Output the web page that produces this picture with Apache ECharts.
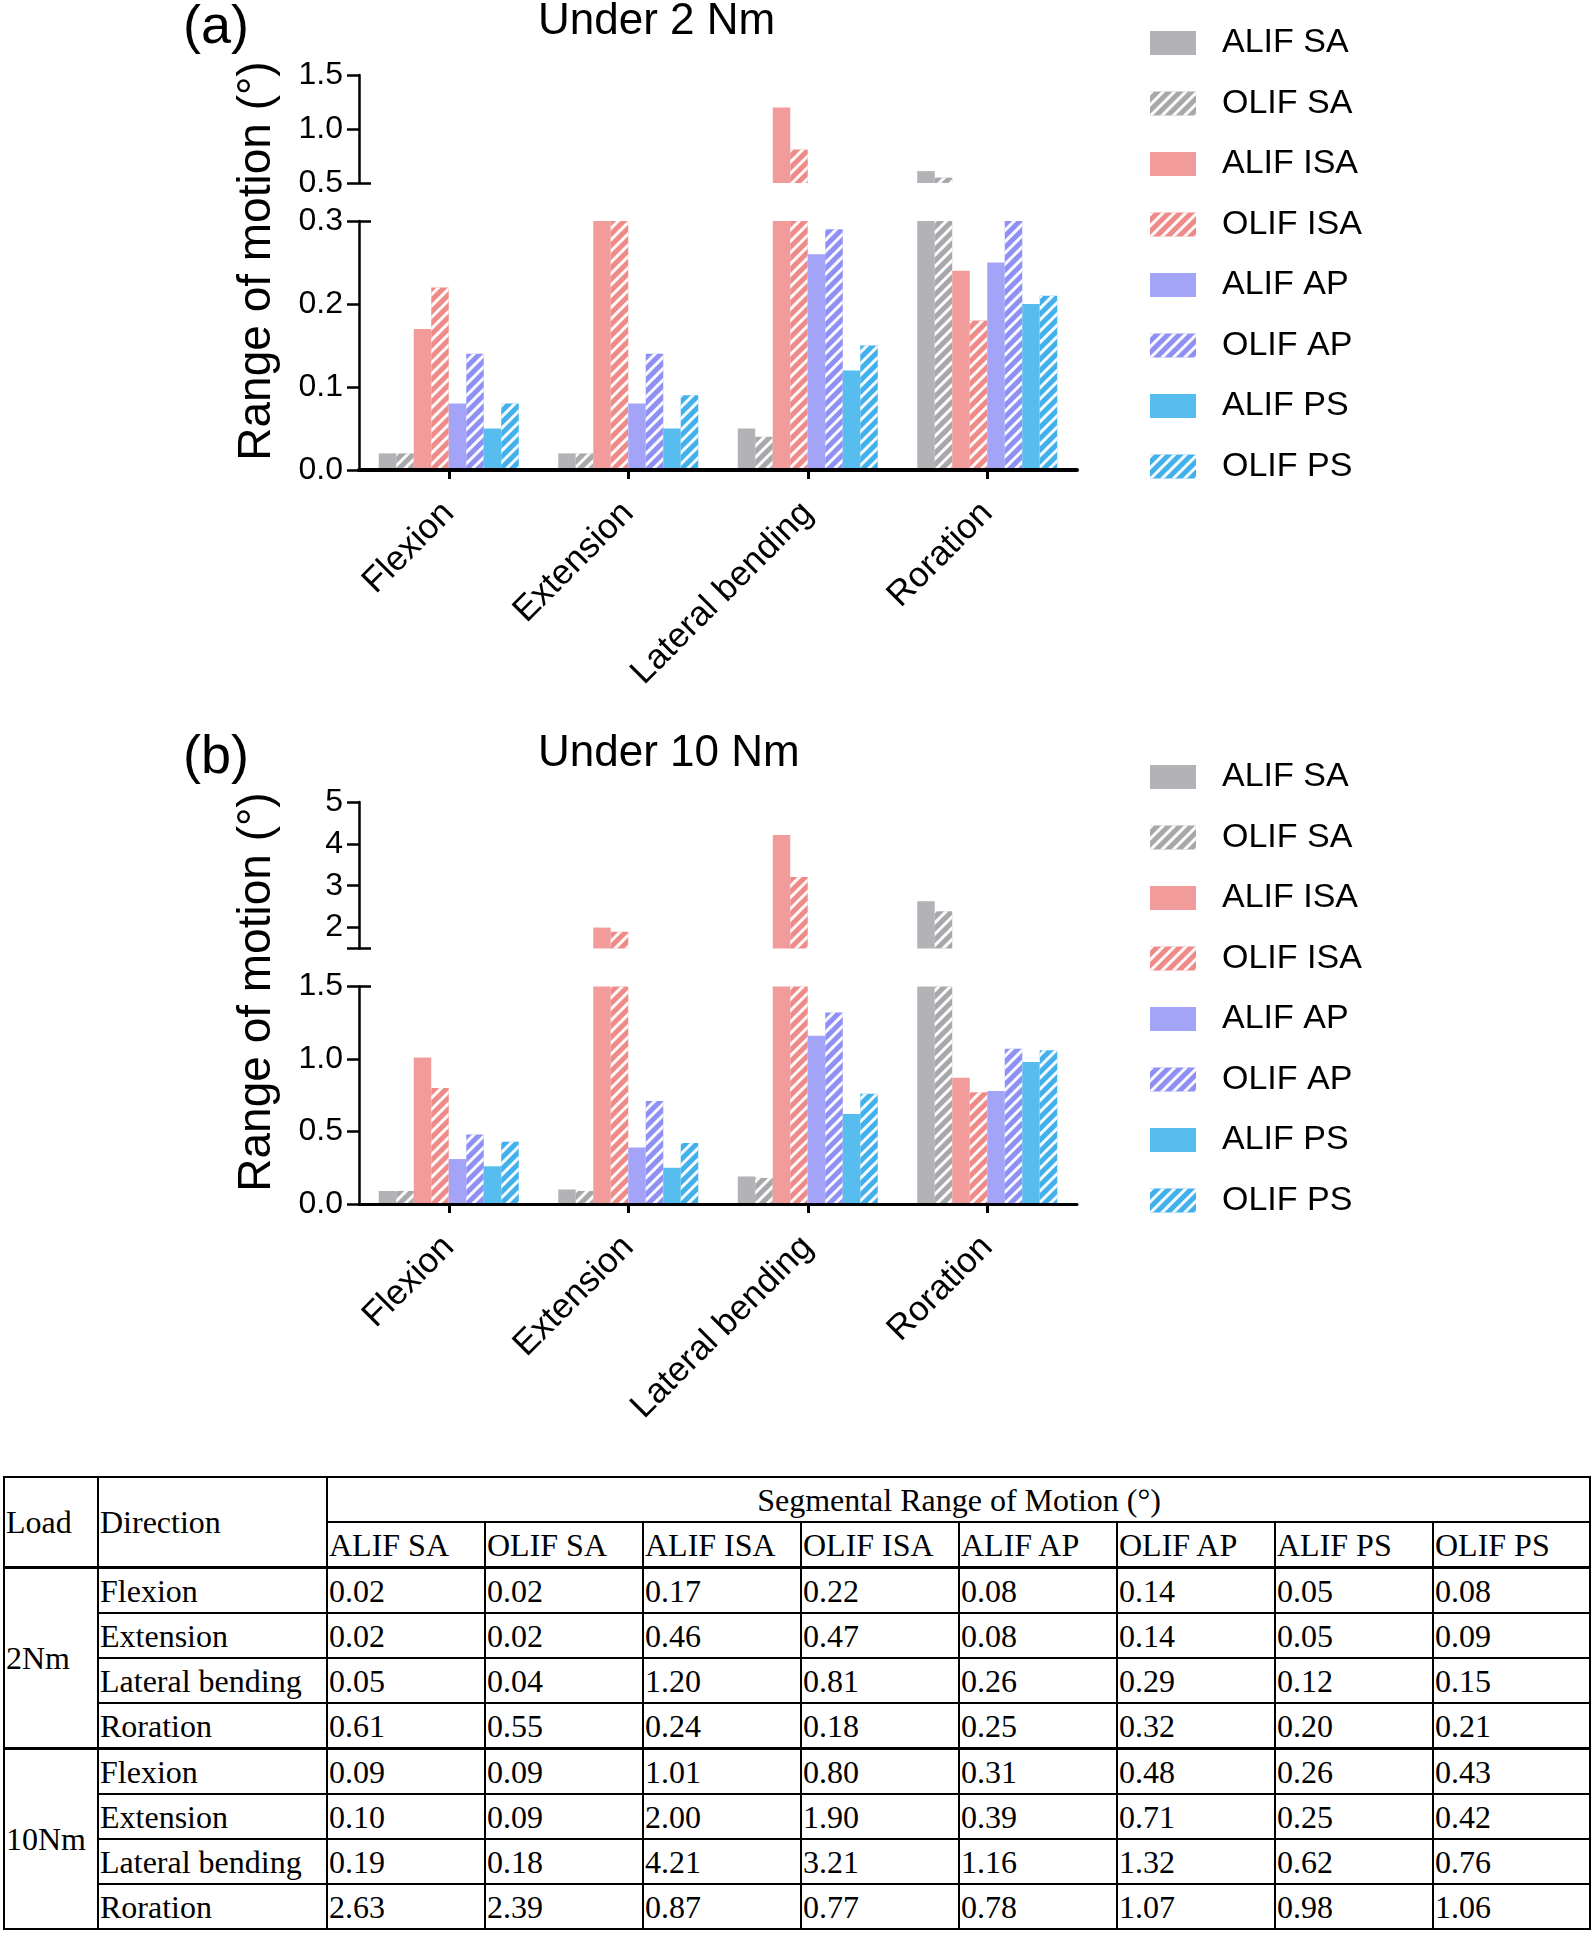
<!DOCTYPE html>
<html>
<head>
<meta charset="utf-8">
<title>Segmental range of motion</title>
<script src="https://cdn.jsdelivr.net/npm/echarts@6.0.0/dist/echarts.min.js"></script>
<style>
  html, body { margin: 0; padding: 0; background: #fff; }
  #myChart { position: absolute; left: 0; top: 0; width: 1594px; height: 1470px; }
  #romTable {
    position: absolute; left: 3px; top: 1476px; width: 1588px;
    border-collapse: collapse; table-layout: fixed;
    font-family: "Liberation Serif", "Times New Roman", serif; font-size: 32px; color: #000;
  }
  #romTable td { border: 2px solid #000; height: 43px; padding: 0 0 0 1px; white-space: nowrap; vertical-align: middle; line-height: 1; }
  #romTable tr.sep td { border-top-width: 3px; }
</style>
</head>
<body>
<div id="myChart"></div>
<table id="romTable"></table>
<script>
// categories / series names
const categories = ['Flexion', 'Extension', 'Lateral bending', 'Roration'];
const seriesNames = ['ALIF SA', 'OLIF SA', 'ALIF ISA', 'OLIF ISA', 'ALIF AP', 'OLIF AP', 'ALIF PS', 'OLIF PS'];
const loads = ['2Nm', '10Nm'];

// under 2 Nm (Flexion, Extension, Lateral bending, Roration)
const alifSA_2 = [0.02, 0.02, 0.05, 0.61];
const olifSA_2 = [0.02, 0.02, 0.04, 0.55];
const alifISA_2 = [0.17, 0.46, 1.20, 0.24];
const olifISA_2 = [0.22, 0.47, 0.81, 0.18];
const alifAP_2 = [0.08, 0.08, 0.26, 0.25];
const olifAP_2 = [0.14, 0.14, 0.29, 0.32];
const alifPS_2 = [0.05, 0.05, 0.12, 0.20];
const olifPS_2 = [0.08, 0.09, 0.15, 0.21];

// under 10 Nm
const alifSA_10 = [0.09, 0.10, 0.19, 2.63];
const olifSA_10 = [0.09, 0.09, 0.18, 2.39];
const alifISA_10 = [1.01, 2.00, 4.21, 0.87];
const olifISA_10 = [0.80, 1.90, 3.21, 0.77];
const alifAP_10 = [0.31, 0.39, 1.16, 0.78];
const olifAP_10 = [0.48, 0.71, 1.32, 1.07];
const alifPS_10 = [0.26, 0.25, 0.62, 0.98];
const olifPS_10 = [0.43, 0.42, 0.76, 1.06];

// tick labels of the broken y axes
const ticksA_low = [0, 0.1, 0.2, 0.3];
const ticksA_high = [0.5, 1.0, 1.5];
const ticksB_low = [0, 0.5, 1.0, 1.5];
const ticksB_high = [2, 3, 4, 5];

const values2 = [alifSA_2, olifSA_2, alifISA_2, olifISA_2, alifAP_2, olifAP_2, alifPS_2, olifPS_2];
const values10 = [alifSA_10, olifSA_10, alifISA_10, olifISA_10, alifAP_10, olifAP_10, alifPS_10, olifPS_10];

const barColors = ['#b3b2b7', '#a8a8aa', '#f19c9a', '#ee8b89', '#a3a4f8', '#8f90f4', '#57bdef', '#42b1eb'];
const FONT = '"Liberation Sans", Arial, sans-serif';

const hatch = {
  symbol: 'rect', symbolSize: 1, color: 'rgba(255,255,255,0.95)',
  dashArrayX: [1, 0], dashArrayY: [2.5, 4.5], rotation: -Math.PI / 4
};

// 0 = (a) upper, 1 = (a) lower, 2 = (b) upper, 3 = (b) lower
const grids = [
  { left: 359, top: 75, width: 718, height: 108 },
  { left: 359, top: 221, width: 718, height: 249 },
  { left: 359, top: 802, width: 718, height: 146.5 },
  { left: 359, top: 986.5, width: 718, height: 217.5 }
];

function xAxisFor(g, visible, lineW) {
  if (!visible) return { type: 'category', gridIndex: g, data: categories, show: false };
  return {
    type: 'category', gridIndex: g, data: categories, z: 5,
    axisLine: { show: true, lineStyle: { color: '#000', width: lineW } },
    axisTick: { show: true, alignWithLabel: true, length: 9, lineStyle: { color: '#000', width: 3 } },
    axisLabel: { rotate: 45, margin: 38, fontSize: 35, color: '#000', fontFamily: FONT }
  };
}

function yAxesFor(g, min, max, labels, ticks, breakVal, digits) {
  return [{
    type: 'value', gridIndex: g, min: min, max: max, position: 'left', z: 5,
    splitLine: { show: false },
    axisLine: { show: true, lineStyle: { color: '#000', width: 2.5 } },
    axisTick: { show: true, length: 12, customValues: ticks, lineStyle: { color: '#000', width: 2.5 } },
    axisLabel: {
      customValues: labels, margin: 16, fontSize: 32, color: '#000', fontFamily: FONT,
      formatter: function (v) { return v.toFixed(digits); }
    }
  }, {
    // inner half of the break tick
    type: 'value', gridIndex: g, min: min, max: max, position: 'left', z: 5,
    splitLine: { show: false },
    axisLine: { show: false },
    axisLabel: { show: false },
    axisTick: { show: true, inside: true, length: 12, customValues: [breakVal], lineStyle: { color: '#000', width: 2.5 } }
  }];
}

const yAxes = [].concat(
  yAxesFor(0, 0.5, 1.5, ticksA_high, ticksA_high, 0.5, 1),
  yAxesFor(1, 0, 0.3, ticksA_low, ticksA_low, 0.3, 1),
  yAxesFor(2, 1.5, 5, ticksB_high, [1.5].concat(ticksB_high), 1.5, 0),
  yAxesFor(3, 0, 1.5, ticksB_low, ticksB_low, 1.5, 1)
);

function barSeries(idx, data, g) {
  const s = {
    name: seriesNames[idx], type: 'bar', data: data,
    xAxisIndex: g, yAxisIndex: g * 2,
    barGap: '0%', barCategoryGap: '22%', clip: true, silent: true,
    itemStyle: { color: barColors[idx] }
  };
  if (idx % 2 === 1) s.itemStyle.decal = hatch;
  return s;
}

const series = [];
seriesNames.forEach(function (name, i) {
  series.push(barSeries(i, values2[i], 0));
  series.push(barSeries(i, values2[i], 1));
  series.push(barSeries(i, values10[i], 2));
  series.push(barSeries(i, values10[i], 3));
});

function legendAt(top) {
  return {
    orient: 'vertical', left: 1150, top: top, padding: 0,
    itemWidth: 46, itemHeight: 24, itemGap: 26.5, icon: 'rect',
    selectedMode: false, data: seriesNames,
    textStyle: { fontSize: 34, lineHeight: 34, color: '#000', fontFamily: FONT, padding: [0, 0, 0, 21] }
  };
}

function label(text, x, y, size, rotation) {
  return {
    type: 'text', x: x, y: y, rotation: rotation || 0, silent: true,
    style: {
      text: text, fontSize: size, fontFamily: FONT, fill: '#000',
      align: rotation ? 'center' : 'left', verticalAlign: 'middle'
    }
  };
}

let myChart = echarts.init(document.getElementById('myChart'));
myChart.setOption({
  animation: false,
  backgroundColor: '#fff',
  grid: grids,
  xAxis: [xAxisFor(0, false), xAxisFor(1, true, 4), xAxisFor(2, false), xAxisFor(3, true, 3)],
  yAxis: yAxes,
  legend: [legendAt(26), legendAt(760)],
  series: series,
  graphic: [
    label('(a)', 183, 28, 54),
    label('Under 2 Nm', 538, 22, 44),
    label('(b)', 183, 758, 54),
    label('Under 10 Nm', 538, 754, 44),
    label('Range of motion (°)', 257, 261, 46, Math.PI / 2),
    label('Range of motion (°)', 257, 992, 46, Math.PI / 2)
  ]
});

// table below the charts, built from the same arrays
const table = document.getElementById('romTable');
const colWidths = [94, 229, 158, 158, 158, 158, 158, 158, 158, 157];
let html = '<colgroup>' + colWidths.map(function (w) { return '<col style="width:' + w + 'px">'; }).join('') + '</colgroup>';
html += '<tr><td rowspan="2">Load</td><td rowspan="2">Direction</td>' +
  '<td colspan="8" style="text-align:center">Segmental Range of Motion (°)</td></tr>';
html += '<tr>' + seriesNames.map(function (n) { return '<td>' + n + '</td>'; }).join('') + '</tr>';
[values2, values10].forEach(function (vals, li) {
  categories.forEach(function (cat, ci) {
    html += '<tr' + (ci === 0 ? ' class="sep"' : '') + '>';
    if (ci === 0) html += '<td rowspan="4">' + loads[li] + '</td>';
    html += '<td>' + cat + '</td>';
    vals.forEach(function (v) { html += '<td>' + v[ci].toFixed(2) + '</td>'; });
    html += '</tr>';
  });
});
table.innerHTML = html;
</script>
</body>
</html>
